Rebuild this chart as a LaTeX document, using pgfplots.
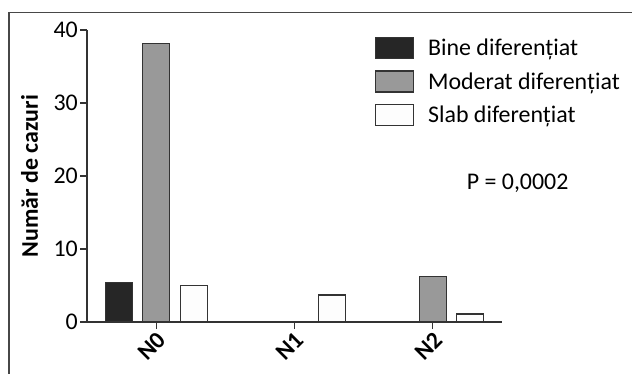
\documentclass[border=0pt]{standalone}
\usepackage{pgfplots}
\pgfplotsset{compat=1.18}
\usepackage{fontspec}
\setmainfont{Carlito}
\definecolor{barblack}{HTML}{262626}
\definecolor{bargray}{HTML}{999999}
\definecolor{barwhite}{HTML}{FDFDFD}
\definecolor{axcol}{HTML}{333333}
\begin{document}
\begin{tikzpicture}
\useasboundingbox (0bp,0bp) rectangle (632bp,374bp);
\draw[color=axcol!90, line width=1.2bp] (9bp,-5bp) -- (9bp,361.5bp) -- (640bp,361.5bp);
\begin{axis}[
  at={(87bp,52bp)}, anchor=south west,
  scale only axis, width=415bp, height=292bp,
  xmin=-0.5, xmax=2.5, ymin=0, ymax=40,
  axis x line*=bottom, axis y line*=left,
  axis line style={axcol, line width=1.3bp, -},
  ytick={0,10,20,30,40},
  xtick={0,1,2}, xticklabels={N0,N1,N2},
  tick align=outside, major tick length=7bp,
  tick style={axcol, line width=1.3bp},
  ybar=10.5bp, bar width=27bp,
  clip=false,
  font=\fontsize{24}{28}\selectfont,
  /pgf/number format/assume math mode=true,
  yticklabel style={font=\fontsize{24}{28}\selectfont, inner sep=2bp},
  xticklabel style={font=\fontsize{24}{28}\selectfont\bfseries, rotate=45, anchor=east, inner sep=1bp, yshift=-9bp},
  ylabel={\bfseries Număr de cazuri},
  ylabel style={at={(axis description cs:-0.1386,0.5)}, anchor=center, rotate=0},
  every axis plot post/.append style={legend image code/.code={\draw[#1] (0bp,-10.5bp) rectangle (38bp,10.5bp);}},
  legend style={draw=none, fill=none, at={(axis cs:1.58,39.04)}, anchor=north west,
    font=\fontsize{24}{28}\selectfont, row sep=11bp, column sep=14bp, inner sep=0pt,
    nodes={inner sep=0pt}},
  legend cell align=left,
]
\addplot[fill=barblack, draw=axcol, line width=1.2bp] coordinates {(0,5.4)};
\addplot[fill=bargray, draw=axcol, line width=1.2bp] coordinates {(0,38.2) (2,6.2)};
\addplot[fill=barwhite, draw=axcol, line width=1.2bp] coordinates {(0,5.0) (1,3.7) (2,1.1)};
\legend{Bine diferențiat, Moderat diferențiat, Slab diferențiat}
\node[font=\fontsize{24}{28}\selectfont] at (axis cs:2.613,19) {P = 0,0002};
\end{axis}
\end{tikzpicture}
\end{document}
